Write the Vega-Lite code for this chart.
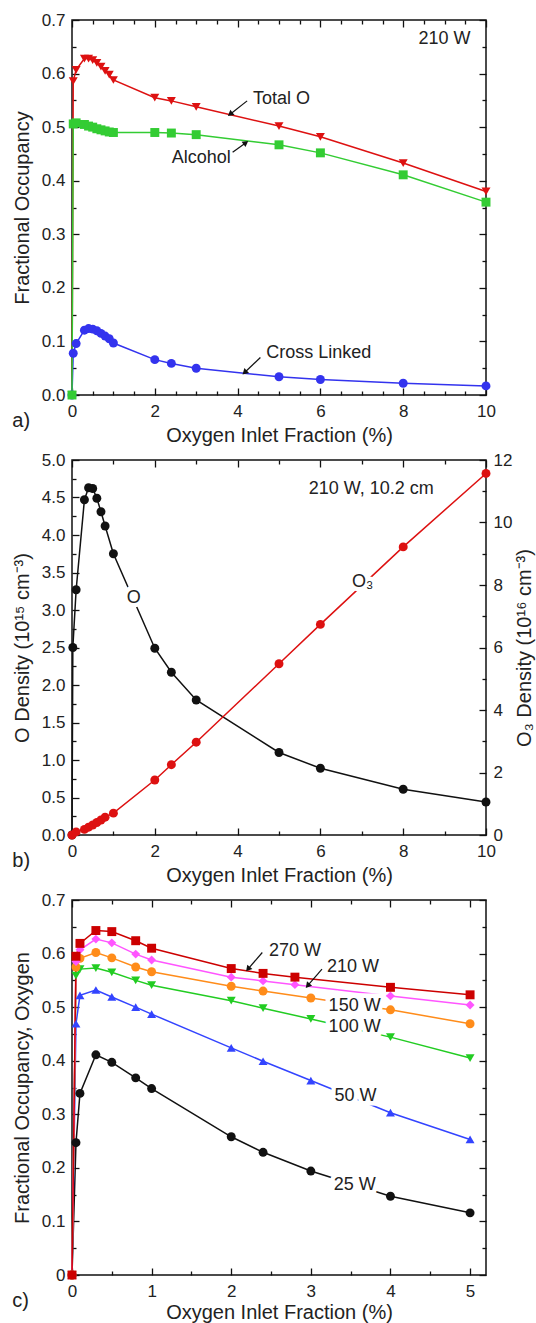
{
"$schema": "https://vega.github.io/schema/vega-lite/v6.json",
"padding": {"left": 11, "top": 10, "right": 2, "bottom": 0},
"spacing": 4,
"resolve": {"scale": {"color": "independent", "shape": "independent"}},
"config": {
 "font": "Liberation Sans",
 "view": {"stroke": "#111", "strokeWidth": 1.5},
 "axis": {"grid": false, "domain": false, "labelFont": "Liberation Sans", "labelFontSize": 17, "labelColor": "#222", "titleFont": "Liberation Sans", "titleFontSize": 20, "titleFontWeight": "normal", "titleColor": "#222", "tickColor": "#111", "tickWidth": 1.3, "labelFlush": false, "labelOverlap": false},
 "title": {"font": "Liberation Sans", "fontSize": 20, "fontWeight": "normal", "color": "#222"},
 "text": {"font": "Liberation Sans"}
},
"datasets": {
 "a": [
  {"x":0,"v":0,"s":"Total O"},{"x":0.03,"v":0.586,"s":"Total O"},{"x":0.1,"v":0.607,"s":"Total O"},{"x":0.3,"v":0.628,"s":"Total O"},{"x":0.4,"v":0.628,"s":"Total O"},{"x":0.5,"v":0.625,"s":"Total O"},{"x":0.6,"v":0.62,"s":"Total O"},{"x":0.7,"v":0.613,"s":"Total O"},{"x":0.8,"v":0.605,"s":"Total O"},{"x":0.9,"v":0.598,"s":"Total O"},{"x":1,"v":0.588,"s":"Total O"},{"x":2,"v":0.555,"s":"Total O"},{"x":2.4,"v":0.549,"s":"Total O"},{"x":3,"v":0.538,"s":"Total O"},{"x":5,"v":0.502,"s":"Total O"},{"x":6,"v":0.482,"s":"Total O"},{"x":8,"v":0.433,"s":"Total O"},{"x":10,"v":0.38,"s":"Total O"},
  {"x":0,"v":0,"s":"Cross Linked"},{"x":0.03,"v":0.078,"s":"Cross Linked"},{"x":0.1,"v":0.096,"s":"Cross Linked"},{"x":0.3,"v":0.121,"s":"Cross Linked"},{"x":0.4,"v":0.124,"s":"Cross Linked"},{"x":0.5,"v":0.123,"s":"Cross Linked"},{"x":0.6,"v":0.12,"s":"Cross Linked"},{"x":0.7,"v":0.115,"s":"Cross Linked"},{"x":0.8,"v":0.11,"s":"Cross Linked"},{"x":0.9,"v":0.105,"s":"Cross Linked"},{"x":1,"v":0.097,"s":"Cross Linked"},{"x":2,"v":0.066,"s":"Cross Linked"},{"x":2.4,"v":0.059,"s":"Cross Linked"},{"x":3,"v":0.05,"s":"Cross Linked"},{"x":5,"v":0.034,"s":"Cross Linked"},{"x":6,"v":0.029,"s":"Cross Linked"},{"x":8,"v":0.022,"s":"Cross Linked"},{"x":10,"v":0.017,"s":"Cross Linked"},
  {"x":0,"v":0,"s":"Alcohol"},{"x":0.03,"v":0.506,"s":"Alcohol"},{"x":0.1,"v":0.508,"s":"Alcohol"},{"x":0.3,"v":0.505,"s":"Alcohol"},{"x":0.4,"v":0.502,"s":"Alcohol"},{"x":0.5,"v":0.5,"s":"Alcohol"},{"x":0.6,"v":0.497,"s":"Alcohol"},{"x":0.7,"v":0.495,"s":"Alcohol"},{"x":0.8,"v":0.493,"s":"Alcohol"},{"x":0.9,"v":0.491,"s":"Alcohol"},{"x":1,"v":0.49,"s":"Alcohol"},{"x":2,"v":0.49,"s":"Alcohol"},{"x":2.4,"v":0.489,"s":"Alcohol"},{"x":3,"v":0.486,"s":"Alcohol"},{"x":5,"v":0.467,"s":"Alcohol"},{"x":6,"v":0.452,"s":"Alcohol"},{"x":8,"v":0.411,"s":"Alcohol"},{"x":10,"v":0.36,"s":"Alcohol"}
 ],
 "aText": [
  {"x":9.0,"y":0.664,"t":"210 W"},{"x":5.06,"y":0.552,"t":"Total O"},{"x":3.12,"y":0.443,"t":"Alcohol"},{"x":5.96,"y":0.078,"t":"Cross Linked"}
 ],
 "aArrow": [
  {"x":4.23,"y":0.549,"x2":3.82,"y2":0.524,"angle":231.7},
  {"x":3.88,"y":0.453,"x2":4.2,"y2":0.471,"angle":54},
  {"x":4.55,"y":0.07,"x2":4.17,"y2":0.042,"angle":226.3}
 ],
 "bO": [
  {"x":0,"v":0},{"x":0.02,"v":2.5},{"x":0.1,"v":3.27},{"x":0.3,"v":4.47},{"x":0.4,"v":4.63},{"x":0.5,"v":4.62},{"x":0.6,"v":4.49},{"x":0.7,"v":4.31},{"x":0.8,"v":4.12},{"x":1,"v":3.75},{"x":2,"v":2.49},{"x":2.4,"v":2.17},{"x":3,"v":1.8},{"x":5,"v":1.1},{"x":6,"v":0.89},{"x":8,"v":0.61},{"x":10,"v":0.44}
 ],
 "bO3": [
  {"x":0,"v":0},{"x":0.1,"v":0.1},{"x":0.3,"v":0.18},{"x":0.4,"v":0.25},{"x":0.5,"v":0.32},{"x":0.6,"v":0.4},{"x":0.7,"v":0.48},{"x":0.8,"v":0.57},{"x":1,"v":0.7},{"x":2,"v":1.76},{"x":2.4,"v":2.25},{"x":3,"v":2.97},{"x":5,"v":5.48},{"x":6,"v":6.74},{"x":8,"v":9.22},{"x":10,"v":11.57}
 ],
 "bText": [
  {"x":7.23,"y":4.62,"t":"210 W, 10.2 cm"},{"x":1.49,"y":3.16,"t":"O"},{"x":7.02,"y":3.38,"t":"O₃"}
 ],
 "c": [
  {"x":0,"v":0,"p":"25 W"},{"x":0.05,"v":0.247,"p":"25 W"},{"x":0.1,"v":0.339,"p":"25 W"},{"x":0.3,"v":0.411,"p":"25 W"},{"x":0.5,"v":0.397,"p":"25 W"},{"x":0.8,"v":0.368,"p":"25 W"},{"x":1,"v":0.348,"p":"25 W"},{"x":2,"v":0.258,"p":"25 W"},{"x":2.4,"v":0.229,"p":"25 W"},{"x":3,"v":0.194,"p":"25 W"},{"x":4,"v":0.147,"p":"25 W"},{"x":5,"v":0.116,"p":"25 W"},
  {"x":0,"v":0,"p":"50 W"},{"x":0.05,"v":0.469,"p":"50 W"},{"x":0.1,"v":0.522,"p":"50 W"},{"x":0.3,"v":0.532,"p":"50 W"},{"x":0.5,"v":0.519,"p":"50 W"},{"x":0.8,"v":0.5,"p":"50 W"},{"x":1,"v":0.487,"p":"50 W"},{"x":2,"v":0.424,"p":"50 W"},{"x":2.4,"v":0.399,"p":"50 W"},{"x":3,"v":0.363,"p":"50 W"},{"x":4,"v":0.303,"p":"50 W"},{"x":5,"v":0.253,"p":"50 W"},
  {"x":0,"v":0,"p":"100 W"},{"x":0.05,"v":0.559,"p":"100 W"},{"x":0.1,"v":0.571,"p":"100 W"},{"x":0.3,"v":0.573,"p":"100 W"},{"x":0.5,"v":0.565,"p":"100 W"},{"x":0.8,"v":0.55,"p":"100 W"},{"x":1,"v":0.541,"p":"100 W"},{"x":2,"v":0.512,"p":"100 W"},{"x":2.4,"v":0.498,"p":"100 W"},{"x":3,"v":0.478,"p":"100 W"},{"x":4,"v":0.444,"p":"100 W"},{"x":5,"v":0.405,"p":"100 W"},
  {"x":0,"v":0,"p":"150 W"},{"x":0.05,"v":0.575,"p":"150 W"},{"x":0.1,"v":0.591,"p":"150 W"},{"x":0.3,"v":0.602,"p":"150 W"},{"x":0.5,"v":0.592,"p":"150 W"},{"x":0.8,"v":0.575,"p":"150 W"},{"x":1,"v":0.566,"p":"150 W"},{"x":2,"v":0.539,"p":"150 W"},{"x":2.4,"v":0.53,"p":"150 W"},{"x":3,"v":0.517,"p":"150 W"},{"x":4,"v":0.495,"p":"150 W"},{"x":5,"v":0.469,"p":"150 W"},
  {"x":0,"v":0,"p":"210 W"},{"x":0.05,"v":0.585,"p":"210 W"},{"x":0.1,"v":0.607,"p":"210 W"},{"x":0.3,"v":0.627,"p":"210 W"},{"x":0.5,"v":0.62,"p":"210 W"},{"x":0.8,"v":0.599,"p":"210 W"},{"x":1,"v":0.588,"p":"210 W"},{"x":2,"v":0.556,"p":"210 W"},{"x":2.4,"v":0.549,"p":"210 W"},{"x":2.8,"v":0.542,"p":"210 W"},{"x":4,"v":0.521,"p":"210 W"},{"x":5,"v":0.504,"p":"210 W"},
  {"x":0,"v":0,"p":"270 W"},{"x":0.05,"v":0.595,"p":"270 W"},{"x":0.1,"v":0.619,"p":"270 W"},{"x":0.3,"v":0.643,"p":"270 W"},{"x":0.5,"v":0.641,"p":"270 W"},{"x":0.8,"v":0.624,"p":"270 W"},{"x":1,"v":0.61,"p":"270 W"},{"x":2,"v":0.572,"p":"270 W"},{"x":2.4,"v":0.563,"p":"270 W"},{"x":2.8,"v":0.556,"p":"270 W"},{"x":4,"v":0.537,"p":"270 W"},{"x":5,"v":0.523,"p":"270 W"}
 ],
 "cText": [
  {"x":2.8,"y":0.604,"t":"270 W"},{"x":3.53,"y":0.575,"t":"210 W"},{"x":3.55,"y":0.503,"t":"150 W"},{"x":3.55,"y":0.463,"t":"100 W"},{"x":3.56,"y":0.335,"t":"50 W"},{"x":3.55,"y":0.168,"t":"25 W"}
 ],
 "cArrow": [
  {"x":2.39,"y":0.602,"x2":2.21,"y2":0.571,"angle":220.7},
  {"x":3.14,"y":0.571,"x2":2.96,"y2":0.54,"angle":220.7}
 ]
},
"vconcat": [
 {
  "width": 414, "height": 375,
  "title": {"text": "a)", "orient": "bottom", "anchor": "start", "frame": "bounds", "offset": -34},
  "resolve": {"axis": {"x": "independent", "y": "independent"}},
  "layer": [
   {"data": {"name": "a"}, "mark": {"type": "line", "strokeWidth": 1.5},
    "encoding": {
     "x": {"field": "x", "type": "quantitative", "scale": {"domain": [0, 10], "nice": false, "zero": false}, "axis": {"orient": "bottom", "values": [0,2,4,6,8,10], "ticks": false, "tickSize": 0, "labelPadding": 8, "title": "Oxygen Inlet Fraction (%)", "titlePadding": 6}},
     "y": {"field": "v", "type": "quantitative", "scale": {"domain": [0, 0.7], "nice": false, "zero": false}, "axis": {"orient": "left", "values": [0,0.1,0.2,0.3,0.4,0.5,0.6,0.7], "format": ".1f", "ticks": false, "tickSize": 0, "labelPadding": 7, "title": "Fractional Occupancy", "titlePadding": 9}},
     "color": {"field": "s", "type": "nominal", "scale": {"domain": ["Total O", "Alcohol", "Cross Linked"], "range": ["#dd1111", "#33cc33", "#3333ee"]}, "legend": null}
    }},
   {"data": {"name": "a"}, "mark": {"type": "point", "filled": true, "opacity": 1, "size": 80},
    "encoding": {
     "x": {"field": "x", "type": "quantitative", "scale": {"domain": [0, 10], "nice": false, "zero": false}, "axis": null},
     "y": {"field": "v", "type": "quantitative", "scale": {"domain": [0, 0.7], "nice": false, "zero": false}, "axis": null},
     "color": {"field": "s", "type": "nominal", "scale": {"domain": ["Total O", "Alcohol", "Cross Linked"], "range": ["#dd1111", "#33cc33", "#3333ee"]}, "legend": null},
     "shape": {"field": "s", "type": "nominal", "scale": {"domain": ["Total O", "Alcohol", "Cross Linked"], "range": ["triangle-down", "square", "circle"]}, "legend": null}
    }},
   {"data": {"name": "a"}, "mark": {"type": "point", "opacity": 0},
    "encoding": {
     "x": {"field": "x", "type": "quantitative", "scale": {"domain": [0, 10], "nice": false, "zero": false}, "axis": {"orient": "bottom", "values": [0,2,4,6,8,10], "labels": false, "tickSize": -7, "title": null}},
     "y": {"field": "v", "type": "quantitative", "scale": {"domain": [0, 0.7], "nice": false, "zero": false}, "axis": {"orient": "left", "values": [0,0.1,0.2,0.3,0.4,0.5,0.6,0.7], "labels": false, "tickSize": -7, "title": null}}
    }},
   {"data": {"name": "a"}, "mark": {"type": "point", "opacity": 0},
    "encoding": {
     "x": {"field": "x", "type": "quantitative", "scale": {"domain": [0, 10], "nice": false, "zero": false}, "axis": {"orient": "bottom", "values": [0.5,1,1.5,2.5,3,3.5,4.5,5,5.5,6.5,7,7.5,8.5,9,9.5], "labels": false, "tickSize": -4, "title": null}},
     "y": {"field": "v", "type": "quantitative", "scale": {"domain": [0, 0.7], "nice": false, "zero": false}, "axis": {"orient": "left", "values": [0.05,0.15,0.25,0.35,0.45,0.55,0.65], "labels": false, "tickSize": -4, "title": null}}
    }},
   {"data": {"name": "a"}, "mark": {"type": "point", "opacity": 0},
    "encoding": {
     "x": {"field": "x", "type": "quantitative", "scale": {"domain": [0, 10], "nice": false, "zero": false}, "axis": {"orient": "top", "values": [0,2,4,6,8,10], "labels": false, "tickSize": -7, "title": null}},
     "y": {"field": "v", "type": "quantitative", "scale": {"domain": [0, 0.7], "nice": false, "zero": false}, "axis": {"orient": "right", "values": [0,0.1,0.2,0.3,0.4,0.5,0.6,0.7], "labels": false, "tickSize": -7, "title": null}}
    }},
   {"data": {"name": "a"}, "mark": {"type": "point", "opacity": 0},
    "encoding": {
     "x": {"field": "x", "type": "quantitative", "scale": {"domain": [0, 10], "nice": false, "zero": false}, "axis": {"orient": "top", "values": [0.5,1,1.5,2.5,3,3.5,4.5,5,5.5,6.5,7,7.5,8.5,9,9.5], "labels": false, "tickSize": -4, "title": null}},
     "y": {"field": "v", "type": "quantitative", "scale": {"domain": [0, 0.7], "nice": false, "zero": false}, "axis": {"orient": "right", "values": [0.05,0.15,0.25,0.35,0.45,0.55,0.65], "labels": false, "tickSize": -4, "title": null}}
    }},
   {"data": {"name": "aArrow"}, "mark": {"type": "rule", "strokeWidth": 1.2, "color": "#111"},
    "encoding": {
     "x": {"field": "x", "type": "quantitative", "scale": {"domain": [0, 10], "nice": false, "zero": false}, "axis": null},
     "y": {"field": "y", "type": "quantitative", "scale": {"domain": [0, 0.7], "nice": false, "zero": false}, "axis": null},
     "x2": {"field": "x2"}, "y2": {"field": "y2"}
    }},
   {"data": {"name": "aArrow"}, "mark": {"type": "point", "shape": "triangle-up", "filled": true, "opacity": 1, "size": 45, "color": "#111"},
    "encoding": {
     "x": {"field": "x2", "type": "quantitative", "scale": {"domain": [0, 10], "nice": false, "zero": false}, "axis": null},
     "y": {"field": "y2", "type": "quantitative", "scale": {"domain": [0, 0.7], "nice": false, "zero": false}, "axis": null},
     "angle": {"field": "angle", "type": "quantitative", "scale": null}
    }},
   {"data": {"name": "aText"}, "mark": {"type": "text", "fontSize": 18, "color": "#222"},
    "encoding": {
     "x": {"field": "x", "type": "quantitative", "scale": {"domain": [0, 10], "nice": false, "zero": false}, "axis": null},
     "y": {"field": "y", "type": "quantitative", "scale": {"domain": [0, 0.7], "nice": false, "zero": false}, "axis": null},
     "text": {"field": "t"}
    }}
  ]
 },
 {
  "width": 414, "height": 375,
  "title": {"text": "b)", "orient": "bottom", "anchor": "start", "frame": "bounds", "offset": -34},
  "resolve": {"axis": {"x": "independent", "y": "independent"}, "scale": {"y": "independent"}},
  "layer": [
   {"data": {"name": "bO"}, "mark": {"type": "line", "strokeWidth": 1.5, "color": "#111"},
    "encoding": {
     "x": {"field": "x", "type": "quantitative", "scale": {"domain": [0, 10], "nice": false, "zero": false}, "axis": {"orient": "bottom", "values": [0,2,4,6,8,10], "ticks": false, "tickSize": 0, "labelPadding": 8, "title": "Oxygen Inlet Fraction (%)", "titlePadding": 6}},
     "y": {"field": "v", "type": "quantitative", "scale": {"domain": [0, 5], "nice": false, "zero": false}, "axis": {"orient": "left", "values": [0,0.5,1,1.5,2,2.5,3,3.5,4,4.5,5], "format": ".1f", "ticks": false, "tickSize": 0, "labelPadding": 7, "title": "O Density (10¹⁵ cm⁻³)", "titlePadding": 9}}
    }},
   {"data": {"name": "bO"}, "mark": {"type": "point", "filled": true, "opacity": 1, "size": 80, "color": "#111", "shape": "circle"},
    "encoding": {
     "x": {"field": "x", "type": "quantitative", "scale": {"domain": [0, 10], "nice": false, "zero": false}, "axis": null},
     "y": {"field": "v", "type": "quantitative", "scale": {"domain": [0, 5], "nice": false, "zero": false}, "axis": null}
    }},
   {"data": {"name": "bO3"}, "mark": {"type": "line", "strokeWidth": 1.5, "color": "#dd1111"},
    "encoding": {
     "x": {"field": "x", "type": "quantitative", "scale": {"domain": [0, 10], "nice": false, "zero": false}, "axis": null},
     "y": {"field": "v", "type": "quantitative", "scale": {"domain": [0, 12], "nice": false, "zero": false}, "axis": {"orient": "right", "values": [0,2,4,6,8,10,12], "ticks": false, "tickSize": 0, "labelPadding": 7, "title": "O₃ Density (10¹⁶ cm⁻³)", "titlePadding": 3, "titleAngle": 270, "titleBaseline": "top"}}
    }},
   {"data": {"name": "bO3"}, "mark": {"type": "point", "filled": true, "opacity": 1, "size": 80, "color": "#dd1111", "shape": "circle"},
    "encoding": {
     "x": {"field": "x", "type": "quantitative", "scale": {"domain": [0, 10], "nice": false, "zero": false}, "axis": null},
     "y": {"field": "v", "type": "quantitative", "scale": {"domain": [0, 12], "nice": false, "zero": false}, "axis": null}
    }},
   {"data": {"name": "bO"}, "mark": {"type": "point", "opacity": 0},
    "encoding": {
     "x": {"field": "x", "type": "quantitative", "scale": {"domain": [0, 10], "nice": false, "zero": false}, "axis": {"orient": "bottom", "values": [0,2,4,6,8,10], "labels": false, "tickSize": -7, "title": null}},
     "y": {"field": "v", "type": "quantitative", "scale": {"domain": [0, 5], "nice": false, "zero": false}, "axis": {"orient": "left", "values": [0,0.5,1,1.5,2,2.5,3,3.5,4,4.5,5], "labels": false, "tickSize": -7, "title": null}}
    }},
   {"data": {"name": "bO"}, "mark": {"type": "point", "opacity": 0},
    "encoding": {
     "x": {"field": "x", "type": "quantitative", "scale": {"domain": [0, 10], "nice": false, "zero": false}, "axis": {"orient": "bottom", "values": [1,3,5,7,9], "labels": false, "tickSize": -4, "title": null}},
     "y": {"field": "v", "type": "quantitative", "scale": {"domain": [0, 5], "nice": false, "zero": false}, "axis": {"orient": "left", "values": [0.25,0.75,1.25,1.75,2.25,2.75,3.25,3.75,4.25,4.75], "labels": false, "tickSize": -4, "title": null}}
    }},
   {"data": {"name": "bO3"}, "mark": {"type": "point", "opacity": 0},
    "encoding": {
     "x": {"field": "x", "type": "quantitative", "scale": {"domain": [0, 10], "nice": false, "zero": false}, "axis": {"orient": "top", "values": [0,2,4,6,8,10], "labels": false, "tickSize": -7, "title": null}},
     "y": {"field": "v", "type": "quantitative", "scale": {"domain": [0, 12], "nice": false, "zero": false}, "axis": {"orient": "right", "values": [0,2,4,6,8,10,12], "labels": false, "tickSize": -7, "title": null}}
    }},
   {"data": {"name": "bO3"}, "mark": {"type": "point", "opacity": 0},
    "encoding": {
     "x": {"field": "x", "type": "quantitative", "scale": {"domain": [0, 10], "nice": false, "zero": false}, "axis": {"orient": "top", "values": [1,3,5,7,9], "labels": false, "tickSize": -4, "title": null}},
     "y": {"field": "v", "type": "quantitative", "scale": {"domain": [0, 12], "nice": false, "zero": false}, "axis": {"orient": "right", "values": [1,3,5,7,9,11], "labels": false, "tickSize": -4, "title": null}}
    }},
   {"data": {"name": "bText"}, "mark": {"type": "text", "fontSize": 18, "color": "white", "stroke": "white", "strokeWidth": 9},
    "encoding": {
     "x": {"field": "x", "type": "quantitative", "scale": {"domain": [0, 10], "nice": false, "zero": false}, "axis": null},
     "y": {"field": "y", "type": "quantitative", "scale": {"domain": [0, 5], "nice": false, "zero": false}, "axis": null},
     "text": {"field": "t"}
    }},
   {"data": {"name": "bText"}, "mark": {"type": "text", "fontSize": 18, "color": "#222"},
    "encoding": {
     "x": {"field": "x", "type": "quantitative", "scale": {"domain": [0, 10], "nice": false, "zero": false}, "axis": null},
     "y": {"field": "y", "type": "quantitative", "scale": {"domain": [0, 5], "nice": false, "zero": false}, "axis": null},
     "text": {"field": "t"}
    }}
  ]
 },
 {
  "width": 414, "height": 375,
  "title": {"text": "c)", "orient": "bottom", "anchor": "start", "frame": "bounds", "offset": -31},
  "resolve": {"axis": {"x": "independent", "y": "independent"}},
  "layer": [
   {"data": {"name": "c"}, "mark": {"type": "line", "strokeWidth": 1.5},
    "encoding": {
     "x": {"field": "x", "type": "quantitative", "scale": {"domain": [0, 5.2], "nice": false, "zero": false}, "axis": {"orient": "bottom", "values": [0,1,2,3,4,5], "ticks": false, "tickSize": 0, "labelPadding": 8, "title": "Oxygen Inlet Fraction (%)", "titlePadding": 3}},
     "y": {"field": "v", "type": "quantitative", "scale": {"domain": [0, 0.7], "nice": false, "zero": false}, "axis": {"orient": "left", "values": [0,0.1,0.2,0.3,0.4,0.5,0.6,0.7], "labelExpr": "datum.value == 0 ? '0' : format(datum.value, '.1f')", "ticks": false, "tickSize": 0, "labelPadding": 7, "title": "Fractional Occupancy, Oxygen", "titlePadding": 9}},
     "color": {"field": "p", "type": "nominal", "scale": {"domain": ["25 W", "50 W", "100 W", "150 W", "210 W", "270 W"], "range": ["#111111", "#3344ff", "#22cc22", "#ff8c1a", "#ff55ff", "#cc0000"]}, "legend": null}
    }},
   {"data": {"name": "c"}, "mark": {"type": "point", "filled": true, "opacity": 1, "size": 80},
    "encoding": {
     "x": {"field": "x", "type": "quantitative", "scale": {"domain": [0, 5.2], "nice": false, "zero": false}, "axis": null},
     "y": {"field": "v", "type": "quantitative", "scale": {"domain": [0, 0.7], "nice": false, "zero": false}, "axis": null},
     "color": {"field": "p", "type": "nominal", "scale": {"domain": ["25 W", "50 W", "100 W", "150 W", "210 W", "270 W"], "range": ["#111111", "#3344ff", "#22cc22", "#ff8c1a", "#ff55ff", "#cc0000"]}, "legend": null},
     "shape": {"field": "p", "type": "nominal", "scale": {"domain": ["25 W", "50 W", "100 W", "150 W", "210 W", "270 W"], "range": ["circle", "triangle-up", "triangle-down", "circle", "diamond", "square"]}, "legend": null}
    }},
   {"data": {"name": "c"}, "mark": {"type": "point", "opacity": 0},
    "encoding": {
     "x": {"field": "x", "type": "quantitative", "scale": {"domain": [0, 5.2], "nice": false, "zero": false}, "axis": {"orient": "bottom", "values": [0,1,2,3,4,5], "labels": false, "tickSize": -7, "title": null}},
     "y": {"field": "v", "type": "quantitative", "scale": {"domain": [0, 0.7], "nice": false, "zero": false}, "axis": {"orient": "left", "values": [0,0.1,0.2,0.3,0.4,0.5,0.6,0.7], "labels": false, "tickSize": -7, "title": null}}
    }},
   {"data": {"name": "c"}, "mark": {"type": "point", "opacity": 0},
    "encoding": {
     "x": {"field": "x", "type": "quantitative", "scale": {"domain": [0, 5.2], "nice": false, "zero": false}, "axis": {"orient": "bottom", "values": [0.5,1.5,2.5,3.5,4.5], "labels": false, "tickSize": -4, "title": null}},
     "y": {"field": "v", "type": "quantitative", "scale": {"domain": [0, 0.7], "nice": false, "zero": false}, "axis": {"orient": "left", "values": [0.05,0.15,0.25,0.35,0.45,0.55,0.65], "labels": false, "tickSize": -4, "title": null}}
    }},
   {"data": {"name": "c"}, "mark": {"type": "point", "opacity": 0},
    "encoding": {
     "x": {"field": "x", "type": "quantitative", "scale": {"domain": [0, 5.2], "nice": false, "zero": false}, "axis": {"orient": "top", "values": [0,1,2,3,4,5], "labels": false, "tickSize": -7, "title": null}},
     "y": {"field": "v", "type": "quantitative", "scale": {"domain": [0, 0.7], "nice": false, "zero": false}, "axis": {"orient": "right", "values": [0,0.1,0.2,0.3,0.4,0.5,0.6,0.7], "labels": false, "tickSize": -7, "title": null}}
    }},
   {"data": {"name": "c"}, "mark": {"type": "point", "opacity": 0},
    "encoding": {
     "x": {"field": "x", "type": "quantitative", "scale": {"domain": [0, 5.2], "nice": false, "zero": false}, "axis": {"orient": "top", "values": [0.5,1.5,2.5,3.5,4.5], "labels": false, "tickSize": -4, "title": null}},
     "y": {"field": "v", "type": "quantitative", "scale": {"domain": [0, 0.7], "nice": false, "zero": false}, "axis": {"orient": "right", "values": [0.05,0.15,0.25,0.35,0.45,0.55,0.65], "labels": false, "tickSize": -4, "title": null}}
    }},
   {"data": {"name": "cArrow"}, "mark": {"type": "rule", "strokeWidth": 1.2, "color": "#111"},
    "encoding": {
     "x": {"field": "x", "type": "quantitative", "scale": {"domain": [0, 5.2], "nice": false, "zero": false}, "axis": null},
     "y": {"field": "y", "type": "quantitative", "scale": {"domain": [0, 0.7], "nice": false, "zero": false}, "axis": null},
     "x2": {"field": "x2"}, "y2": {"field": "y2"}
    }},
   {"data": {"name": "cArrow"}, "mark": {"type": "point", "shape": "triangle-up", "filled": true, "opacity": 1, "size": 45, "color": "#111"},
    "encoding": {
     "x": {"field": "x2", "type": "quantitative", "scale": {"domain": [0, 5.2], "nice": false, "zero": false}, "axis": null},
     "y": {"field": "y2", "type": "quantitative", "scale": {"domain": [0, 0.7], "nice": false, "zero": false}, "axis": null},
     "angle": {"field": "angle", "type": "quantitative", "scale": null}
    }},
   {"data": {"name": "cText"}, "mark": {"type": "text", "fontSize": 18, "color": "white", "stroke": "white", "strokeWidth": 9},
    "encoding": {
     "x": {"field": "x", "type": "quantitative", "scale": {"domain": [0, 5.2], "nice": false, "zero": false}, "axis": null},
     "y": {"field": "y", "type": "quantitative", "scale": {"domain": [0, 0.7], "nice": false, "zero": false}, "axis": null},
     "text": {"field": "t"}
    }},
   {"data": {"name": "cText"}, "mark": {"type": "text", "fontSize": 18, "color": "#222"},
    "encoding": {
     "x": {"field": "x", "type": "quantitative", "scale": {"domain": [0, 5.2], "nice": false, "zero": false}, "axis": null},
     "y": {"field": "y", "type": "quantitative", "scale": {"domain": [0, 0.7], "nice": false, "zero": false}, "axis": null},
     "text": {"field": "t"}
    }}
  ]
 }
]
}
